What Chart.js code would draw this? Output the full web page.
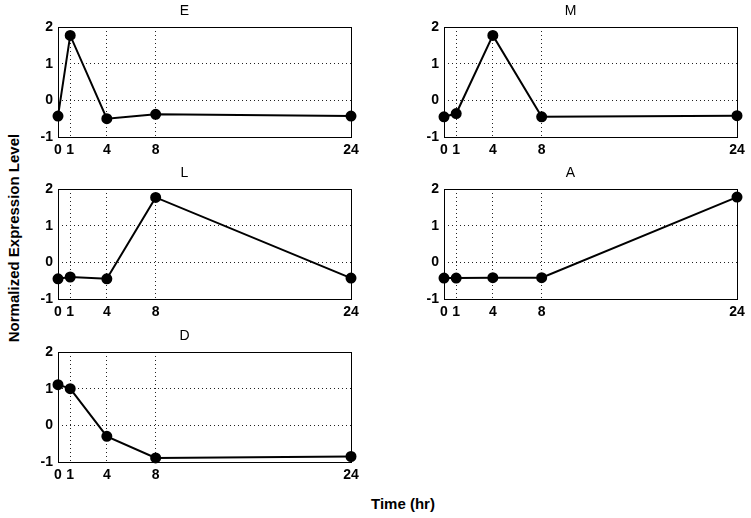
<!DOCTYPE html>
<html>
<head>
<meta charset="utf-8">
<script src="https://cdn.jsdelivr.net/npm/chart.js@4/dist/chart.umd.min.js"></script>
<style>
  html, body { margin: 0; padding: 0; background: #fff; overflow: hidden; }
  #wrap { position: relative; width: 751px; height: 518px; overflow: hidden; background: #fff; }
  .panel { position: absolute; }
  .lbl { position: absolute; font: bold 15px "Liberation Sans", Arial, sans-serif; color: #000; white-space: nowrap; }
</style>
</head>
<body>
<div id="wrap">
  <div class="lbl" id="ylabel" style="left:13px; top:238px; transform: translate(-50%, -50%) rotate(-90deg);">Normalized Expression Level</div>
  <div class="lbl" id="xlabel" style="left:403px; top:503px; transform: translate(-50%, -50%);">Time (hr)</div>
</div>
<script>
// time points (hr) and tick values
const times = [0, 1, 4, 8, 24];
const xTicks = [0, 1, 4, 8, 24];
const yTicks = [-1, 0, 1, 2];

// normalized expression per cluster
const seriesE = [-0.43, 1.77, -0.50, -0.38, -0.43];
const seriesM = [-0.45, -0.36, 1.77, -0.45, -0.42];
const seriesL = [-0.45, -0.40, -0.45, 1.77, -0.43];
const seriesA = [-0.43, -0.43, -0.42, -0.42, 1.78];
const seriesD = [1.11, 1.00, -0.30, -0.89, -0.85];

const panelTitles = ['E', 'M', 'L', 'A', 'D'];
const panelSeries = [seriesE, seriesM, seriesL, seriesA, seriesD];

// where each plot area sits (left, top of the axes box)
const panelPos = [
    { left: 58, top: 27 }, { left: 444, top: 27 },
    { left: 58, top: 189 }, { left: 444, top: 189 },
    { left: 58, top: 352 }
];
const plotW = 293, plotH = 110;
const padL = 40, padR = 40, padTop = 27, axisH = 23;

const FONT = '"Liberation Sans", Arial, sans-serif';

// solid box round the plot area, like matlab axes
const boxPlugin = {
    id: 'axesBox',
    beforeDatasetsDraw(chart) {
        const a = chart.chartArea;
        const ctx = chart.ctx;
        ctx.save();
        ctx.strokeStyle = '#000';
        ctx.lineWidth = 1;
        ctx.strokeRect(Math.round(a.left) + 0.5, Math.round(a.top) + 0.5,
            Math.round(a.right - a.left), Math.round(a.bottom - a.top));
        ctx.restore();
    }
};

const wrap = document.getElementById('wrap');

panelTitles.forEach((name, i) => {
    const pos = panelPos[i];
    const cv = document.createElement('canvas');
    const w = padL + plotW + padR, h = padTop + plotH + axisH;
    cv.className = 'panel';
    cv.style.left = (pos.left - padL) + 'px';
    cv.style.top = (pos.top - padTop) + 'px';
    cv.style.width = w + 'px';
    cv.style.height = h + 'px';
    cv.width = w; cv.height = h;
    wrap.appendChild(cv);

    new Chart(cv.getContext('2d'), {
        type: 'line',
        data: {
            datasets: [{
                data: times.map((t, k) => ({ x: t, y: panelSeries[i][k] })),
                borderColor: '#000',
                backgroundColor: '#000',
                borderWidth: 2,
                pointRadius: 4.5,
                pointBackgroundColor: '#000',
                pointBorderColor: '#000',
                clip: false,
                tension: 0
            }]
        },
        options: {
            responsive: false,
            animation: false,
            layout: { padding: { left: 0, right: padR, top: 0, bottom: 0 } },
            plugins: {
                legend: { display: false },
                tooltip: { enabled: false },
                title: {
                    display: true,
                    text: name,
                    color: '#000',
                    font: { family: FONT, size: 14, weight: 'normal' },
                    padding: { top: 3, bottom: 27 - 3 - 16.8 }
                }
            },
            scales: {
                x: {
                    type: 'linear',
                    min: 0, max: 24,
                    afterBuildTicks: s => { s.ticks = xTicks.map(v => ({ value: v })); },
                    afterFit: s => { s.height = axisH; },
                    grid: { color: '#222', lineWidth: 1, drawTicks: false },
                    border: { display: false, dash: [1, 3] },
                    ticks: {
                        color: '#000', padding: 5, maxRotation: 0, autoSkip: false,
                        font: { family: FONT, size: 14, weight: 'bold' }
                    }
                },
                y: {
                    min: -1, max: 2,
                    afterBuildTicks: s => { s.ticks = yTicks.map(v => ({ value: v })); },
                    afterFit: s => { s.width = padL; },
                    grid: { color: '#222', lineWidth: 1, drawTicks: false },
                    border: { display: false, dash: [1, 3] },
                    ticks: {
                        color: '#000', padding: 5,
                        font: { family: FONT, size: 14, weight: 'bold' }
                    }
                }
            }
        },
        plugins: [boxPlugin]
    });
});
</script>
</body>
</html>
